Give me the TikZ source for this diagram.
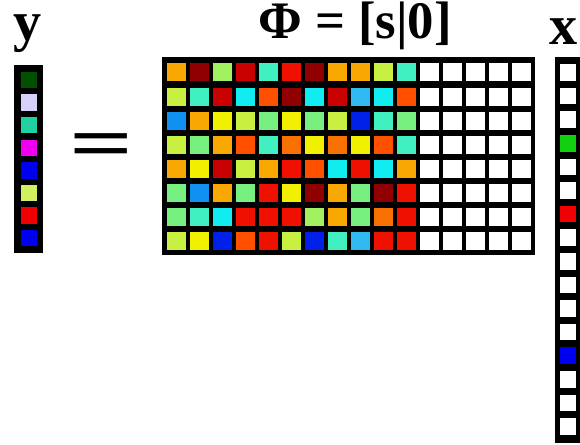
\documentclass[tikz,border=0pt]{standalone}
\usepackage{fontspec}
\setmainfont{Liberation Serif}
\usetikzlibrary{positioning}
\definecolor{jetDR}{RGB}{144, 0, 0}
\definecolor{jetRD}{RGB}{200, 0, 0}
\definecolor{jetR}{RGB}{240, 16, 0}
\definecolor{jetOR}{RGB}{255, 80, 0}
\definecolor{jetOO}{RGB}{248, 112, 0}
\definecolor{jetO}{RGB}{248, 168, 0}
\definecolor{jetY}{RGB}{240, 240, 0}
\definecolor{jetYG}{RGB}{200, 240, 64}
\definecolor{jetGY}{RGB}{160, 240, 96}
\definecolor{jetLG}{RGB}{120, 240, 128}
\definecolor{jetAQ}{RGB}{64, 240, 192}
\definecolor{jetC}{RGB}{16, 236, 240}
\definecolor{jetLB}{RGB}{48, 184, 240}
\definecolor{jetMB}{RGB}{16, 144, 240}
\definecolor{jetB}{RGB}{0, 32, 232}
\definecolor{jetW}{RGB}{255, 255, 255}
\definecolor{vecDG}{RGB}{0, 80, 0}
\definecolor{vecLV}{RGB}{216, 208, 248}
\definecolor{vecSG}{RGB}{32, 208, 160}
\definecolor{vecMG}{RGB}{240, 0, 240}
\definecolor{vecB}{RGB}{0, 0, 240}
\definecolor{vecLM}{RGB}{208, 240, 96}
\definecolor{vecR}{RGB}{240, 0, 0}
\definecolor{vecG}{RGB}{16, 208, 16}
\definecolor{vecW}{RGB}{255, 255, 255}

\begin{document}
\begin{tikzpicture}[
        x=0.02cm, y=-0.02cm,
        cell/.style={
            rectangle,
            inner sep=0pt,
            minimum width=0.38cm,
            minimum height=0.36cm
        },
        vcell/.style={
            rectangle,
            inner sep=0pt,
            minimum width=0.32cm,
            minimum height=0.33cm
        },
        lbl/.style={
            inner sep=0pt,
            anchor=base,
            font=\fontsize{32}{32}\selectfont\bfseries
        }
    ]
        \useasboundingbox (0,0) rectangle (580,445);

        % Frames
        \fill[black] (162,57) rectangle (535,255);
        \fill[black] (14,65) rectangle (43,253);
        \fill[black] (555,57) rectangle (581,443);

        % Matrix Phi
        \foreach \row [count=\ri] in {
            {O,DR,GY,RD,AQ,R,DR,O,O,YG,AQ,W,W,W,W,W},
            {YG,AQ,RD,C,OR,DR,C,RD,LB,C,OR,W,W,W,W,W},
            {MB,O,Y,YG,LG,Y,LG,YG,B,AQ,LG,W,W,W,W,W},
            {YG,LG,O,OR,AQ,OO,Y,OO,Y,OR,AQ,W,W,W,W,W},
            {O,Y,RD,YG,O,R,OR,C,R,C,O,W,W,W,W,W},
            {LG,MB,O,LG,R,Y,DR,O,LG,DR,R,W,W,W,W,W},
            {LG,AQ,C,R,R,R,GY,O,LG,OO,R,W,W,W,W,W},
            {YG,Y,B,OR,R,YG,B,AQ,LB,R,R,W,W,W,W,W}} {
            \foreach \col [count=\ci] in \row {
                \node[cell, fill=jet\col] (phi-\ri-\ci) at ({176.5+23*(\ci-1)}, {72.5+24.1*(\ri-1)}) {};
            }
        }

        % Vector y
        \foreach \col [count=\ri] in {DG,LV,SG,MG,B,LM,R,B} {
            \node[vcell, fill=vec\col] (y-\ri) at (29, {80+22.6*(\ri-1)}) {};
        }

        % Vector x
        \foreach \col [count=\ri] in {W,W,W,G,W,W,R,W,W,W,W,W,B,W,W,W} {
            \node[vcell, fill=vec\col] (x-\ri) at (568, {72.5+23.6*(\ri-1)}) {};
        }

        % Labels
        \node[lbl] (ylabel) at (28, 41) {y};
        \node[lbl] (xlabel) at (564, 45) {x};
        \node[lbl, font=\fontsize{30}{30}\selectfont\bfseries] (title) at (355, 39) {Φ = [s|0]};
        \node[inner sep=0pt, xscale=1.28, yscale=0.85, transform shape, font=\fontsize{50}{50}\selectfont\bfseries] (eq) at (102, 151) {=};
    \end{tikzpicture}
\end{document}
